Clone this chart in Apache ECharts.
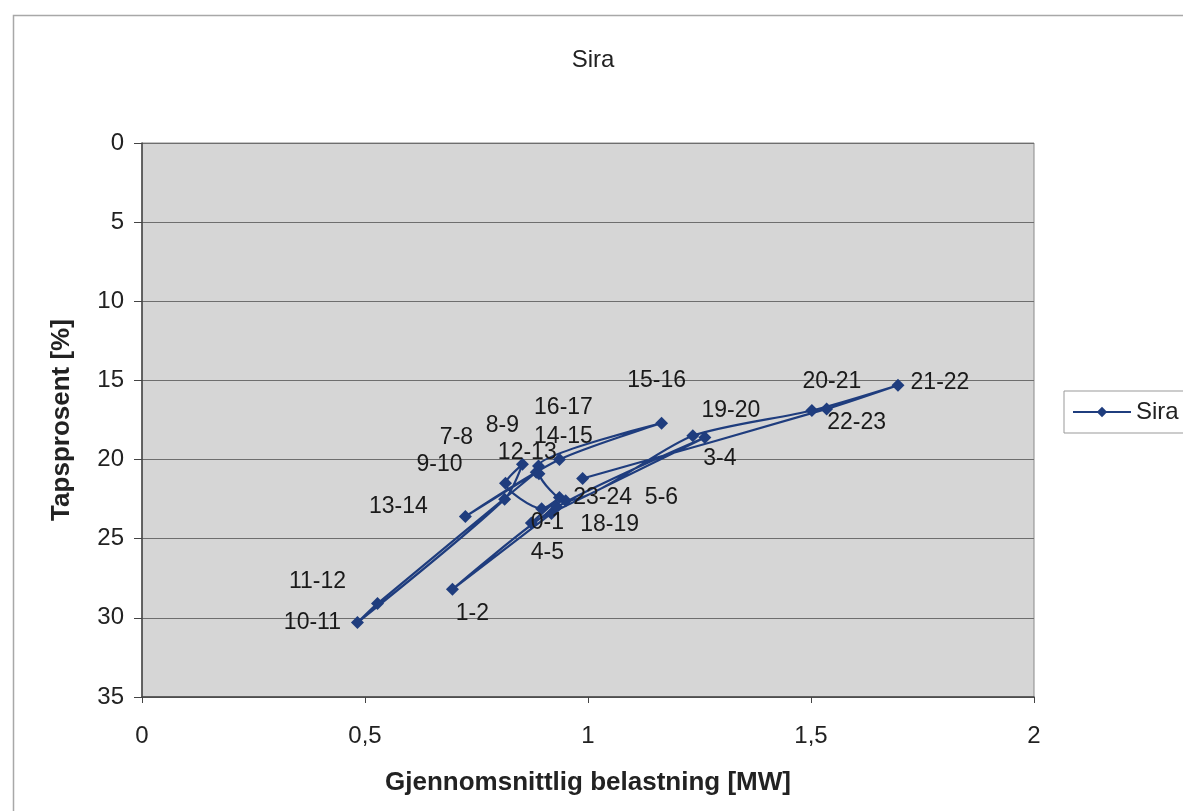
<!DOCTYPE html>
<html>
<head>
<meta charset="utf-8">
<title>Sira</title>
<script src="https://cdn.jsdelivr.net/npm/echarts@6/dist/echarts.min.js"></script>
<style>
  html, body { margin: 0; padding: 0; background: #fff; }
  #chart { width: 1183px; height: 811px; }
</style>
</head>
<body>
<div id="chart"></div>
<script>
// timer (i rekkefølge), belastning [MW] og tapsprosent [%]
const hours = ['0-1', '1-2', '2-3', '3-4', '4-5', '5-6', '6-7', '7-8', '8-9', '9-10', '10-11', '11-12',
  '12-13', '13-14', '14-15', '15-16', '16-17', '17-18', '18-19', '19-20', '20-21', '21-22', '22-23', '23-24'];
const belastning = [0.918, 0.696, 0.93, 1.262, 0.873, 0.936, 0.896, 0.815, 0.853, 0.813, 0.483, 0.528,
  0.884, 0.725, 0.936, 1.165, 0.889, 0.89, 0.95, 1.235, 1.502, 1.695, 1.535, 0.988];
const tapsprosent = [23.4, 28.2, 23.0, 18.6, 24.0, 22.4, 23.1, 21.5, 20.3, 22.5, 30.3, 29.1,
  20.8, 23.6, 20.0, 17.7, 20.4, 20.9, 22.6, 18.5, 16.9, 15.3, 16.8, 21.2];
const xTicks = ['0', '0,5', '1', '1,5', '2'];
const yTicks = ['0', '5', '10', '15', '20', '25', '30', '35'];

// hvor etikettene er flyttet til (piksler fra punktet), null = ingen etikett
const labelOffsets = [[-4, 9], [20, 24], null, [15, 21], [16, 30], [102, 0], null, [-49, -46], [-20, -39],
  [-65, -34], [-45, 0], [-60, -22], [-9, -20], [-67, -10], [4, -23], [-5, -43], [25, -58], null,
  [44, 24], [38, -25], [20, -29], [42, -3], [30, 14], [20, 19]];

const blue = '#1f3d7e';
const font = 'Liberation Sans, Arial, sans-serif';

const chart = echarts.init(document.getElementById('chart'));

const points = hours.map(function (h, i) {
  return {
    name: h,
    value: [belastning[i], tapsprosent[i]],
    label: { show: labelOffsets[i] !== null }
  };
});

chart.setOption({
  backgroundColor: '#fff',
  animation: false,
  textStyle: { fontFamily: font },
  graphic: [{
    type: 'rect',
    left: 11, top: 13,
    shape: { width: 1200, height: 830 },
    style: { fill: 'none', stroke: '#a8a8a8', lineWidth: 1.5 },
    silent: true
  }],
  title: {
    text: 'Sira',
    left: 588,
    textAlign: 'center',
    top: 43,
    textStyle: { fontFamily: font, fontSize: 24, fontWeight: 'normal', color: '#222' }
  },
  legend: {
    left: 1064,
    top: 391,
    padding: [9, 8, 9, 8],
    borderColor: '#999',
    borderWidth: 1,
    backgroundColor: '#fff',
    itemWidth: 58,
    itemHeight: 13,
    itemGap: 4,
    textStyle: { fontFamily: font, fontSize: 24, color: '#222' },
    data: ['Sira']
  },
  grid: {
    left: 142,
    top: 143,
    right: 149,
    bottom: 114,
    show: true,
    backgroundColor: '#d6d6d6',
    borderColor: '#8a8a8a',
    borderWidth: 1
  },
  xAxis: {
    type: 'value',
    min: 0,
    max: 2,
    interval: 0.5,
    name: 'Gjennomsnittlig belastning [MW]',
    nameLocation: 'middle',
    nameGap: 73,
    nameTextStyle: { fontFamily: font, fontSize: 26, fontWeight: 'bold', color: '#222' },
    axisLine: { show: true, onZero: false, lineStyle: { color: '#444', width: 1.5 } },
    axisTick: { show: true, inside: false, length: 6, lineStyle: { color: '#444' } },
    axisLabel: {
      margin: 27,
      fontSize: 24,
      color: '#222',
      formatter: function (v) { return xTicks[Math.round(v / 0.5)]; }
    },
    splitLine: { show: false }
  },
  yAxis: {
    type: 'value',
    inverse: true,
    min: 0,
    max: 35,
    interval: 5,
    name: 'Tapsprosent [%]',
    nameLocation: 'middle',
    nameGap: 67,
    nameRotate: 90,
    nameTextStyle: { fontFamily: font, fontSize: 26, fontWeight: 'bold', color: '#222' },
    axisLine: { show: true, onZero: false, lineStyle: { color: '#444', width: 1.5 } },
    axisTick: { show: true, inside: false, length: 8, lineStyle: { color: '#444' } },
    axisLabel: {
      margin: 18,
      fontSize: 24,
      color: '#222',
      formatter: function (v) { return yTicks[Math.round(v / 5)]; }
    },
    splitLine: { show: true, lineStyle: { color: '#6e6e6e', width: 1.2 } }
  },
  series: [{
    name: 'Sira',
    type: 'line',
    smooth: 0.25,
    symbol: 'diamond',
    symbolSize: 13,
    data: points,
    lineStyle: { color: blue, width: 2.2 },
    itemStyle: { color: blue },
    label: {
      show: true,
      position: 'inside',
      fontFamily: font,
      fontSize: 23,
      color: '#1a1a1a',
      formatter: '{b}'
    },
    labelLayout: function (params) {
      const off = labelOffsets[params.dataIndex] || [0, 0];
      return { dx: off[0], dy: off[1], hideOverlap: false };
    }
  }]
});
</script>
</body>
</html>
